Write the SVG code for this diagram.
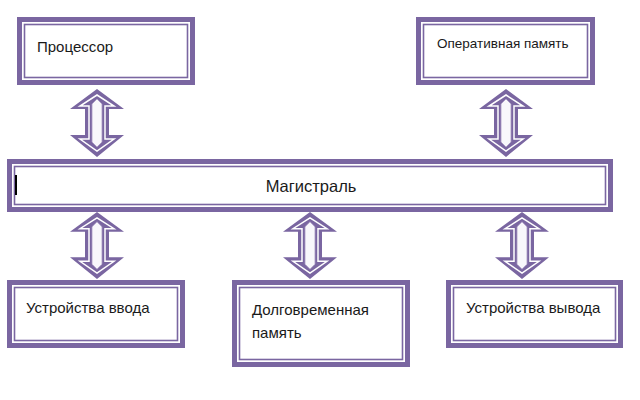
<svg xmlns="http://www.w3.org/2000/svg" xmlns:xlink="http://www.w3.org/1999/xlink" width="640" height="400" viewBox="0 0 640 400">
<style>
.outer{fill:none;stroke:#7a66a1;stroke-width:5}
.inner{fill:#ffffff;stroke:#7a66a1;stroke-width:1.6}
.lbl{font-family:"Liberation Sans",Arial,sans-serif;font-size:15px;fill:#1a1a1a}
</style>
<defs>
<g id="dblarrow">
<path d="M0,0 L27,20 L12,20 L12,46 L27,46 L0,68 L-27,46 L-12,46 L-12,20 L-27,20 Z" fill="#7a66a1"/>
<path d="M0,6 L17,17 L8,17 L8,50 L17,50 L0,62 L-17,50 L-8,50 L-8,17 L-17,17 Z" fill="none" stroke="#ffffff" stroke-width="1.5"/>
<path d="M0,10 L5,15 L5,53 L0,58 L-5,53 L-5,15 Z" fill="#f8f7fb" stroke="#a898c4" stroke-width="0.8"/>
</g>
</defs>
<rect width="640" height="400" fill="#ffffff"/>
<g id="connectors">
<use xlink:href="#dblarrow" x="97" y="89"/>
<use xlink:href="#dblarrow" x="506" y="89"/>
<use xlink:href="#dblarrow" transform="translate(97,212) scale(1,0.985)"/>
<use xlink:href="#dblarrow" transform="translate(310,212) scale(1,0.985)"/>
<use xlink:href="#dblarrow" transform="translate(522,212) scale(1,0.985)"/>
</g>
<g id="processor">
<rect class="outer" x="19.5" y="19.5" width="173" height="63"/>
<rect class="inner" x="24.5" y="24.5" width="163" height="53"/>
<text class="lbl" x="37" y="52">Процессор</text>
</g>
<g id="ram">
<rect class="outer" x="418.5" y="19.5" width="174" height="63"/>
<rect class="inner" x="423.5" y="24.5" width="164" height="53"/>
<text class="lbl" x="437" y="48" style="font-size:13.5px">Оперативная память</text>
</g>
<g id="bus">
<rect class="outer" x="9.5" y="161.5" width="601" height="48"/>
<rect class="inner" x="14.5" y="166.5" width="591" height="38"/>
<rect x="15" y="175" width="2" height="20" fill="#000000"/>
<text class="lbl" x="311" y="192" text-anchor="middle" style="font-size:16.5px">Магистраль</text>
</g>
<g id="input">
<rect class="outer" x="9.5" y="282.5" width="173" height="63"/>
<rect class="inner" x="14.5" y="287.5" width="163" height="53"/>
<text class="lbl" x="26" y="313">Устройства ввода</text>
</g>
<g id="storage">
<rect class="outer" x="234.5" y="282.5" width="173" height="82"/>
<rect class="inner" x="239.5" y="287.5" width="163" height="72"/>
<text class="lbl" x="252" y="315">Долговременная</text>
<text class="lbl" x="252" y="338">память</text>
</g>
<g id="output">
<rect class="outer" x="448.5" y="282.5" width="172" height="63"/>
<rect class="inner" x="453.5" y="287.5" width="162" height="53"/>
<text class="lbl" x="466" y="313">Устройства вывода</text>
</g>
</svg>
